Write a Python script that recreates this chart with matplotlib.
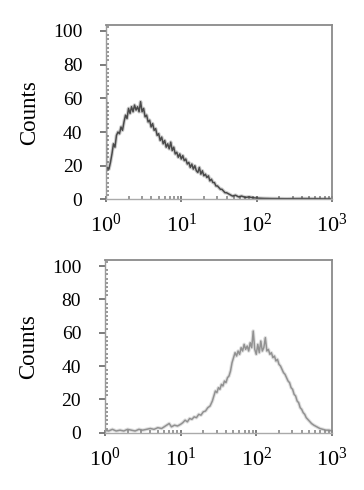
import numpy as np
import matplotlib
matplotlib.use("Agg")
import matplotlib.pyplot as plt
from matplotlib.ticker import FixedLocator, MultipleLocator, NullFormatter

plt.rcParams['font.family'] = ['Liberation Serif', 'DejaVu Serif']
plt.rcParams['mathtext.fontset'] = 'custom'
plt.rcParams['mathtext.rm'] = 'Liberation Serif'
plt.rcParams['mathtext.it'] = 'Liberation Serif:italic'
plt.rcParams['mathtext.bf'] = 'Liberation Serif:bold'

# ---- data (x given as log10 of fluorescence, y = counts) ----
top_log_x = [0.00, 0.005, 0.02, 0.04, 0.06, 0.08, 0.10, 0.12, 0.14, 0.16, 0.18, 0.20,
             0.22, 0.24, 0.26, 0.28, 0.30, 0.32, 0.34, 0.36, 0.38, 0.40, 0.42, 0.44,
             0.46, 0.48, 0.50, 0.52, 0.54, 0.56, 0.58, 0.60, 0.62, 0.64, 0.66, 0.68,
             0.70, 0.72, 0.74, 0.76, 0.78, 0.80, 0.82, 0.84, 0.86, 0.88, 0.90, 0.92,
             0.94, 0.96, 0.98, 1.00, 1.02, 1.04, 1.06, 1.08, 1.10, 1.12, 1.14, 1.16,
             1.18, 1.20, 1.22, 1.24, 1.26, 1.28, 1.30, 1.32, 1.34, 1.36, 1.38, 1.40,
             1.42, 1.44, 1.46, 1.48, 1.50, 1.52, 1.54, 1.56, 1.58, 1.60, 1.64, 1.68,
             1.72, 1.76, 1.80, 1.85, 1.90, 1.95, 2.00, 2.10, 2.20, 2.40, 2.60, 2.80, 3.00]
top_counts = [63, 17, 19, 18, 22, 27, 33, 31, 38, 40, 39, 43,
              41, 46, 50, 48, 54, 51, 55, 52, 56, 53, 55, 52,
              58, 52, 54, 49, 50, 46, 47, 43, 45, 41, 42, 38,
              39, 35, 37, 33, 35, 31, 33, 30, 34, 29, 31, 27,
              28, 25, 27, 24, 26, 23, 24, 21, 22, 19, 21, 18,
              20, 17, 16, 19, 15, 17, 14, 15, 13, 14, 11, 12,
              10, 10, 8, 8, 7, 6, 6, 5, 4, 4, 3, 2,
              2.5, 1.5, 2, 1.2, 1.5, 1, 0.8, 0.6, 0.5, 0.4, 0.5, 0.4, 0.3]

bot_log_x = [0.00, 0.05, 0.10, 0.15, 0.20, 0.25, 0.30, 0.35, 0.40, 0.45, 0.50, 0.55,
             0.60, 0.65, 0.70, 0.75, 0.80, 0.85, 0.88, 0.92, 0.96, 1.00, 1.03, 1.06,
             1.09, 1.12, 1.15, 1.18, 1.21, 1.24, 1.27, 1.30, 1.33, 1.36, 1.39, 1.42,
             1.44, 1.46, 1.48, 1.50, 1.52, 1.54, 1.56, 1.58, 1.60, 1.62, 1.64, 1.66,
             1.68, 1.70, 1.72, 1.74, 1.76, 1.78, 1.80, 1.82, 1.84, 1.86, 1.88, 1.90,
             1.92, 1.94, 1.96, 1.98, 2.00, 2.02, 2.04, 2.06, 2.08, 2.10, 2.12, 2.14,
             2.16, 2.18, 2.20, 2.22, 2.24, 2.26, 2.28, 2.30, 2.32, 2.34, 2.36, 2.38,
             2.40, 2.42, 2.44, 2.46, 2.48, 2.50, 2.52, 2.54, 2.56, 2.58, 2.60, 2.62,
             2.64, 2.66, 2.68, 2.70, 2.73, 2.76, 2.80, 2.84, 2.88, 2.92, 2.96, 3.00]
bot_counts = [1.5, 1, 2, 1, 1.5, 1, 2, 1.5, 1, 2, 1.5, 2,
              2.5, 2, 3, 2.5, 4, 5.5, 3.5, 4.5, 4, 5, 6, 7.5,
              6.5, 8.5, 8, 9.5, 9, 11, 10.5, 12.5, 13, 15, 16, 19,
              22, 25, 24, 27, 26, 29, 28, 31, 30, 33, 34, 37,
              42, 45, 48, 46, 49, 47, 51, 49, 53, 50, 52, 49,
              54, 51, 61, 50, 47, 53, 48, 55, 49, 51, 57, 49,
              50, 47, 48, 45, 46, 43, 44, 41, 40, 38, 36, 35,
              33, 31, 30, 27, 26, 23, 22, 19, 18, 15, 14, 12,
              11, 9, 8, 7, 5.5, 4.5, 3.5, 2.5, 2, 1.5, 1.5, 1]

y_ticks = [0, 20, 40, 60, 80, 100]
x_ticks = [1, 10, 100, 1000]
x_tick_labels = [r'$10^{0}$', r'$10^{1}$', r'$10^{2}$', r'$10^{3}$']

fig = plt.figure(figsize=(3.64, 4.90), dpi=100)
ax1 = fig.add_axes([0.291, 0.593, 0.621, 0.356])
ax2 = fig.add_axes([0.288, 0.117, 0.624, 0.352])

panels = [(ax1, top_log_x, top_counts, '#3c3c3c'),
          (ax2, bot_log_x, bot_counts, '#8a8a8a')]

for ax, lx, cnt, col in panels:
    x = 10 ** np.asarray(lx)
    ax.plot(x, cnt, color=col, lw=2.6, alpha=0.25)
    ax.plot(x, cnt, color=col, lw=1.1, alpha=0.9)
    ax.set_xscale('log')
    ax.set_xlim(1, 1000)
    ax.set_ylim(0, 103.5)
    ax.xaxis.set_major_locator(FixedLocator(x_ticks))
    ax.set_xticklabels(x_tick_labels)
    ax.xaxis.set_minor_locator(FixedLocator([m * 10 ** d for d in range(3) for m in range(2, 10)]))
    ax.xaxis.set_minor_formatter(NullFormatter())
    ax.set_yticks(y_ticks)
    ax.yaxis.set_minor_locator(MultipleLocator(2.5))
    ax.tick_params(axis='y', which='major', direction='out', length=4, width=1.2,
                   color='#666666', pad=13, labelsize=14)
    ax.tick_params(axis='x', which='major', direction='inout', length=5, width=1.2,
                   color='#666666', pad=8, labelsize=16)
    ax.tick_params(which='minor', direction='in', length=2.5, width=1.2, color='#888888')
    ax.tick_params(top=False, right=False)
    for s in ['top', 'right']:
        ax.spines[s].set_color('#8a8a8a')
        ax.spines[s].set_linewidth(1.3)
    ax.spines['left'].set_color('#9a9a9a')
    ax.spines['left'].set_linewidth(1.0)
    ax.spines['bottom'].set_color('#aaaaaa')
    ax.spines['bottom'].set_linewidth(1.0)
    ax.set_ylabel('Counts', fontsize=16.5, labelpad=9)

fig.savefig('out.png', dpi=100)
